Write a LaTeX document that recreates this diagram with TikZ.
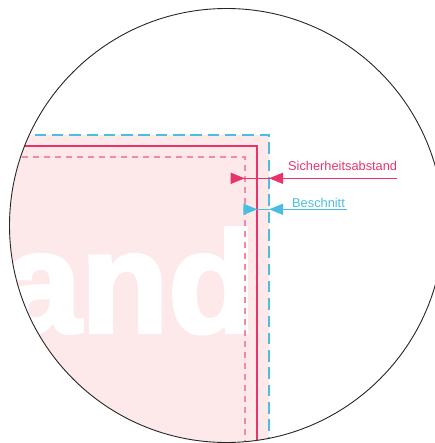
\documentclass[tikz,border=0pt]{standalone}
\usepackage{fontspec}
\setmainfont{Liberation Sans}
\newfontfamily\heavyfont{Liberation Sans}[BoldFeatures={FakeBold=3}]
\usetikzlibrary{arrows.meta,positioning}

\definecolor{trimred}{HTML}{E8346A}
\definecolor{safepink}{HTML}{F28AA6}
\definecolor{bleedblue}{HTML}{4ABDE0}
\definecolor{paper}{HTML}{FDE8EA}

\begin{document}
\begin{tikzpicture}[x=1pt,y=-1pt,>={Triangle[length=14pt,width=11pt]},
		tag/.style={inner sep=0pt,font=\fontsize{12.8}{14}\selectfont},
		bleedline/.style={bleedblue,line width=2pt,dash pattern=on 11.5pt off 5.8pt},
		safeline/.style={safepink,line width=2pt,dash pattern=on 5.7pt off 5.3pt},
		trimline/.style={trimred,line width=1.8pt},
		pointer/.style={line width=1.5pt}]
		\useasboundingbox (0,0) rectangle (434,443);
		\coordinate (c) at (226.5,225.5);
		\begin{scope}
			\clip (c) circle[radius=217pt];
			\fill[paper] (0,134.7) rectangle (269,443);
			\node[anchor=base east,inner sep=0pt,text=white,font=\heavyfont\bfseries\fontsize{143}{143}\selectfont] (word) at (256,332) {and};
			\draw[bleedline] (0,134.7) -- (269,134.7) -- (269,443);
			\draw[trimline] (0,145.7) -- (257.3,145.7) -- (257.3,443);
			\draw[safeline] (0,156.7) -- (244.7,156.7) -- (244.7,443);
		\end{scope}
		\draw[line width=0.9pt,black!85] (c) circle[radius=217pt];

		\node[tag,text=trimred,anchor=base west] (sicher) at (288,170.7) {Sicherheitsabstand};
		\coordinate (sicher-end) at ([yshift=-7.6pt]sicher.base east);
		\coordinate (sicher-in) at (244.7,178.3);
		\coordinate (sicher-out) at (269,178.3);
		\draw[pointer,trimred] ([xshift=-14pt]sicher-in) -- (sicher-end);
		\draw[pointer,trimred,->] ([xshift=-14pt]sicher-in) -- (sicher-in);
		\draw[pointer,trimred,->] ([xshift=14pt]sicher-out) -- (sicher-out);

		\node[tag,text=bleedblue,anchor=base west] (beschnitt) at (292,207.3) {Beschnitt};
		\coordinate (beschnitt-end) at ([xshift=2pt,yshift=-2pt]beschnitt.base east);
		\coordinate (beschnitt-in) at (257.3,209.3);
		\coordinate (beschnitt-out) at (269,209.3);
		\draw[pointer,bleedblue] ([xshift=-14pt]beschnitt-in) -- (beschnitt-end);
		\draw[pointer,bleedblue,->] ([xshift=-14pt]beschnitt-in) -- (beschnitt-in);
		\draw[pointer,bleedblue,->] ([xshift=14pt]beschnitt-out) -- (beschnitt-out);
	\end{tikzpicture}
\end{document}
